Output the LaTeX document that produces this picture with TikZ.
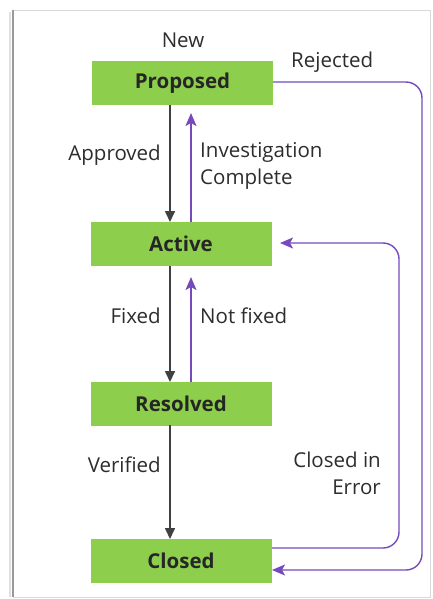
\documentclass[tikz,border=0pt]{standalone}
\usepackage{fontspec}
\setmainfont{Open Sans}
\usetikzlibrary{arrows.meta}
\definecolor{boxgreen}{RGB}{141,206,77}
\definecolor{flowpurple}{RGB}{118,74,188}
\definecolor{labelgray}{RGB}{45,45,45}
\begin{document}
\begin{tikzpicture}[x=1pt,y=-1pt,
  state/.style={draw=none,fill=boxgreen,minimum width=181pt,minimum height=44pt,inner sep=0pt,
    font=\fontsize{20.5}{24}\selectfont\bfseries,text=black!85},
  lbl/.style={font=\fontsize{20.5}{27}\selectfont,text=labelgray,inner sep=0pt},
  fwd/.style={draw=black!75,line width=1.6pt,-{Triangle[length=11pt,width=10pt]}},
  back/.style={draw=flowpurple,line width=1.6pt,-{Stealth[length=13pt,width=11pt,inset=3pt]}},
  loopline/.style={draw=flowpurple,line width=1.4pt,rounded corners=16pt,-{Stealth[length=13pt,width=11pt,inset=3pt]}}]
\useasboundingbox (0,0) rectangle (433,599);
\fill[white] (0,0) rectangle (433,599);
% frame
\draw[black!15,line width=0.8pt] (13,10) -- (430,10) -- (430,597) -- (13,597);
\draw[black!40,line width=1.8pt] (13,10) -- (13,597);
\draw[black!12,line width=2.5pt] (10,12) -- (10,597);

% states
\node[state] (prop) at (182.5,83) {Proposed};
\node[state] (act)  at (181,244) {Active};
\node[state] (res)  at (181,403.5) {Resolved};
\node[state] (clo)  at (181,561) {Closed};

% coordinates for connectors
\coordinate (pb1) at (170,105);
\coordinate (pb2) at (191,105);
\coordinate (at1) at (170,222);
\coordinate (at2) at (191,222);
\coordinate (ab1) at (170,266);
\coordinate (ab2) at (191,266);
\coordinate (rt1) at (170,382);
\coordinate (rt2) at (191,382);
\coordinate (rb1) at (170,425);
\coordinate (ct1) at (170,539);
\coordinate (pr)  at (273,82);
\coordinate (rejc1) at (422,82);
\coordinate (rejc2) at (422,570);
\coordinate (crej) at (272,570);
\coordinate (cerr) at (272,548);
\coordinate (errc1) at (399,548);
\coordinate (errc2) at (399,243);
\coordinate (aerr) at (280,243);

% forward (black) transitions
\draw[fwd] (pb1) -- (at1);
\draw[fwd] (ab1) -- (rt1);
\draw[fwd] (rb1) -- (ct1);

% backward (purple) transitions
\draw[back,shorten >=8pt] (at2) -- (pb2);
\draw[back,shorten >=11pt] (rt2) -- (ab2);
\draw[loopline] (pr) -- (rejc1) -- (rejc2) -- (crej);
\draw[loopline] (cerr) -- (errc1) -- (errc2) -- (aerr);

% labels
\node[lbl] (lnew) at (183,40) {New};
\node[lbl,anchor=west] (lrej) at (291,62) {Rejected};
\node[lbl,anchor=east] (lapp) at (161,155) {Approved};
\node[lbl,anchor=north west,align=left] (linv) at (200,142) {Investigation\\Complete};
\node[lbl,anchor=east] (lfix) at (161,316) {Fixed};
\node[lbl,anchor=west] (lnfix) at (200,316) {Not fixed};
\node[lbl,anchor=east] (lver) at (161,465) {Verified};
\node[lbl,anchor=north east,align=right] (lerr) at (381,452) {Closed in\\Error};
\end{tikzpicture}
\end{document}
